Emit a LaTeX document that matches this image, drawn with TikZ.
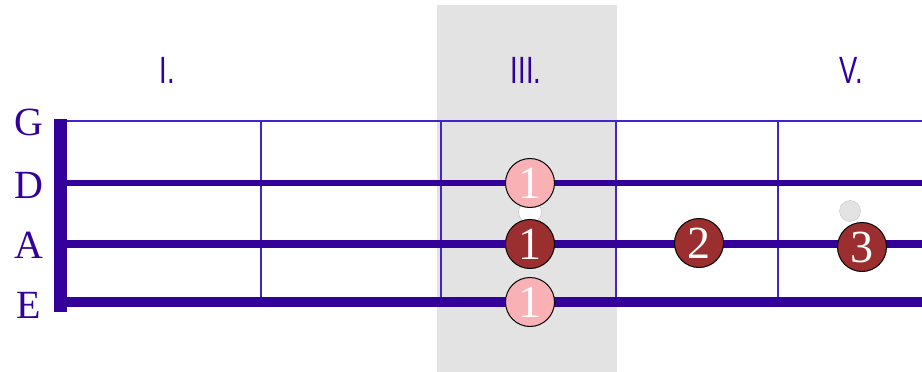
\documentclass[tikz,border=0pt]{standalone}
\usepackage{fontspec}
\setmainfont{Liberation Serif}
\newfontfamily\romanfont{Liberation Sans}
\definecolor{ink}{HTML}{330099}
\definecolor{fret}{HTML}{4422CC}
\definecolor{band}{HTML}{E3E3E3}
\definecolor{pinkdot}{HTML}{F9B1B5}
\definecolor{reddot}{HTML}{9B2F2F}
\tikzset{
  stringline/.style={draw=ink},
  fretline/.style={draw=fret, line width=1.3pt},
  strname/.style={text=ink, font=\fontsize{40}{40}\selectfont, inner sep=0pt},
  posname/.style={text=ink, font=\romanfont\fontsize{38}{38}\selectfont, xscale=0.72, inner sep=0pt},
  dot/.style={circle, draw=black, line width=1pt, minimum size=49pt, inner sep=0pt,
              text=white, font=\fontsize{46}{46}\selectfont},
  pinkfinger/.style={dot, fill=pinkdot},
  redfinger/.style={dot, fill=reddot},
  ghost/.style={circle, draw=gray!45, fill=gray!22, minimum size=21pt, inner sep=0pt}
}
\begin{document}
\begin{tikzpicture}[x=1pt, y=-1pt]
  \useasboundingbox (0,0) rectangle (922,372);
  % highlighted position
  \fill[band] (437,5) rectangle (617,372);

  % position numerals
  \node[posname] (p1) at (167,70) {I.};
  \node[posname] (p3) at (526,70) {III.};
  \node[posname] (p5) at (851,70) {V.};

  % string names
  \node[strname] (nG) at (29,122) {G};
  \node[strname] (nD) at (29,185) {D};
  \node[strname] (nA) at (29,245) {A};
  \node[strname] (nE) at (29,305) {E};

  % frets
  \foreach \x in {261,441,616,778}
    \draw[fretline] (\x,121) -- (\x,302);

  % strings
  \coordinate (gL) at (60,121);  \coordinate (gR) at (922,121);
  \coordinate (dL) at (60,183);  \coordinate (dR) at (922,183);
  \coordinate (aL) at (60,244);  \coordinate (aR) at (922,244);
  \coordinate (eL) at (60,302);  \coordinate (eR) at (922,302);
  \draw[fretline] (gL) -- (gR);
  \draw[stringline, line width=6pt] (dL) -- (dR);
  \draw[stringline, line width=8pt] (aL) -- (aR);
  \draw[stringline, line width=10pt] (eL) -- (eR);

  % nut
  \coordinate (nutT) at (60,119);
  \coordinate (nutB) at (60,312);
  \draw[ink, line width=13pt] (nutT) -- (nutB);

  % open markers
  \node[ghost, draw=gray!55, fill=white, minimum size=23pt] (o1) at (530,212) {};
  \node[ghost] (o2) at (850,211) {};

  % fingered notes
  \node[pinkfinger] (f1) at (530,183) {1};
  \node[redfinger]  (f2) at (530,244) {1};
  \node[pinkfinger] (f3) at (530,302) {1};
  \node[redfinger]  (f4) at (699,243) {2};
  \node[redfinger]  (f5) at (862,247) {3};
\end{tikzpicture}
\end{document}
